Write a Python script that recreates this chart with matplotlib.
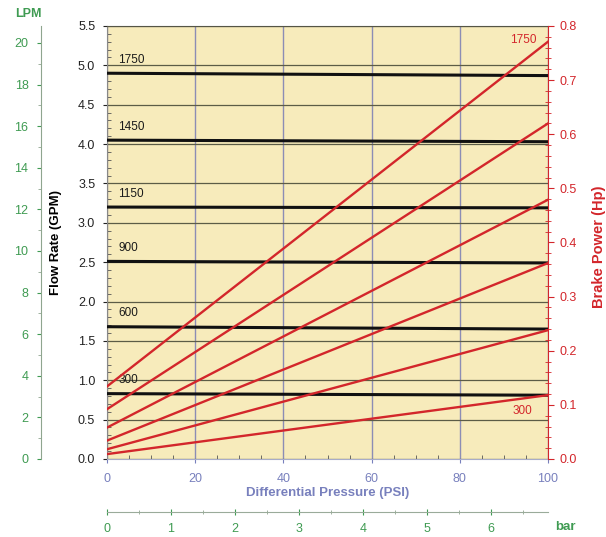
import numpy as np
import matplotlib
matplotlib.use("Agg")
import matplotlib.pyplot as plt
from matplotlib.ticker import MultipleLocator

# rpm curves (end points at 0 and 100 PSI)
speeds = ["1750", "1450", "1150", "900", "600", "300"]
psi_ends = [0, 100]
flow_gpm_start = [4.90, 4.05, 3.20, 2.51, 1.68, 0.83]
flow_gpm_end = [4.87, 4.03, 3.19, 2.49, 1.65, 0.81]
power_hp_start = [0.134, 0.092, 0.058, 0.034, 0.018, 0.009]
power_hp_end = [0.771, 0.620, 0.479, 0.362, 0.238, 0.118]

GPM_TO_LPM = 3.785
PSI_TO_BAR = 1 / 14.5038

BG = "#f7ebbb"
RED = "#d3262b"
GREEN = "#3f9b52"
BLUE = "#7880bd"

plt.rcParams["font.family"] = ["Liberation Sans", "DejaVu Sans"]
plt.rcParams["font.size"] = 9

fig = plt.figure(figsize=(6.06, 5.37), dpi=100)
ax = fig.add_axes([0.1766, 0.1453, 0.7277, 0.8063])
ax.set_facecolor(BG)
ax.set_xlim(0, 100)
ax.set_ylim(0, 5.5)

ax.set_xticks(np.arange(0, 101, 20))
ax.set_yticks(np.arange(0, 5.51, 0.5))
ax.xaxis.set_minor_locator(MultipleLocator(5))
ax.yaxis.set_minor_locator(MultipleLocator(0.1))
ax.yaxis.set_major_formatter(plt.FormatStrFormatter("%.1f"))
ax.xaxis.grid(True, color="#8c8db5", lw=1.0)
ax.yaxis.grid(True, color="#5c5c46", lw=0.9)
ax.tick_params(axis="y", which="major", direction="out", length=3, pad=5.5, colors="#222222")
ax.tick_params(axis="y", which="minor", direction="in", length=3, color="#555555")
ax.tick_params(axis="x", which="major", direction="out", length=3, pad=7, colors=BLUE)
ax.tick_params(axis="x", which="minor", direction="in", length=3, color="#555555")
ax.spines["top"].set_color("#555545")
ax.spines["left"].set_color("#888888")
ax.spines["bottom"].set_color("#a8acc8")
ax.spines["right"].set_visible(False)

# flow lines
for name, f0, f1 in zip(speeds, flow_gpm_start, flow_gpm_end):
    ax.plot(psi_ends, [f0, f1], color="#111111", lw=2.2, zorder=3)
    ax.text(2.5, f0 + 0.17, name, color="#1a1a1a", fontsize=8.5, va="center", ha="left")

ax.set_ylabel("Flow Rate (GPM)", fontweight="bold", fontsize=9.5)
ax.yaxis.set_label_coords(-0.102, 0.5)
ax.set_xlabel("Differential Pressure (PSI)", fontweight="bold", fontsize=9.5, color=BLUE)
ax.xaxis.set_label_coords(0.5, -0.0785)
ax.xaxis.label.set_va("center")

# brake power on the right
ax2 = ax.twinx()
ax2.set_ylim(0, 0.8)
ax2.set_yticks(np.arange(0, 0.81, 0.1))
ax2.yaxis.set_major_formatter(plt.FormatStrFormatter("%.1f"))
ax2.yaxis.set_minor_locator(MultipleLocator(0.02))
for s in ["left", "top", "bottom"]:
    ax2.spines[s].set_visible(False)
ax2.spines["right"].set_color(RED)
ax2.tick_params(axis="y", which="major", direction="out", length=4, pad=4, colors=RED)
ax2.tick_params(axis="y", which="minor", direction="inout", length=4, color=RED)
for p0, p1 in zip(power_hp_start, power_hp_end):
    ax2.plot(psi_ends, [p0, p1], color=RED, lw=1.7, zorder=4)
ax2.text(94.3, 0.774, speeds[0], color=RED, fontsize=8.5, ha="center", va="center")
ax2.text(94.3, 0.089, speeds[-1], color=RED, fontsize=8.5, ha="center", va="center")
ax2.set_ylabel("Brake Power (Hp)", fontweight="bold", fontsize=10.5, color=RED)
ax2.yaxis.set_label_coords(1.1, 0.49)

# LPM axis, far left
ax3 = ax.twinx()
ax3.set_ylim(0, 5.5 * GPM_TO_LPM)
for s in ["right", "top", "bottom"]:
    ax3.spines[s].set_visible(False)
ax3.spines["left"].set_position(("axes", -0.1497))
ax3.spines["left"].set_color("#8fa58f")
ax3.yaxis.set_ticks_position("left")
ax3.set_yticks(np.arange(0, 21, 2))
ax3.yaxis.set_minor_locator(MultipleLocator(1))
ax3.tick_params(axis="y", which="major", direction="out", length=3, pad=6, colors=GREEN)
ax3.tick_params(axis="y", which="minor", direction="out", length=2, color="#8fa58f")
fig.text(28 / 606, 1 - 14 / 537, "LPM", color=GREEN, fontweight="bold", fontsize=9,
         ha="center", va="center")

# bar axis, below
ax4 = ax.twiny()
ax4.set_xlim(0, 100 * PSI_TO_BAR)
for s in ["left", "right", "top"]:
    ax4.spines[s].set_visible(False)
ax4.spines["bottom"].set_position(("axes", -0.1224))
ax4.spines["bottom"].set_color("#9aab9a")
ax4.xaxis.set_ticks_position("bottom")
ax4.set_xticks(np.arange(0, 7, 1))
ax4.xaxis.set_minor_locator(MultipleLocator(0.5))
ax4.tick_params(axis="x", which="major", direction="inout", length=4, pad=6, colors=GREEN)
ax4.tick_params(axis="x", which="minor", direction="inout", length=3, color="#8fa58f")
fig.text(565 / 606, 1 - 527 / 537, "bar", color=GREEN, fontweight="bold", fontsize=9.5,
         ha="center", va="center")

fig.savefig("out.png", dpi=100, facecolor="white")
